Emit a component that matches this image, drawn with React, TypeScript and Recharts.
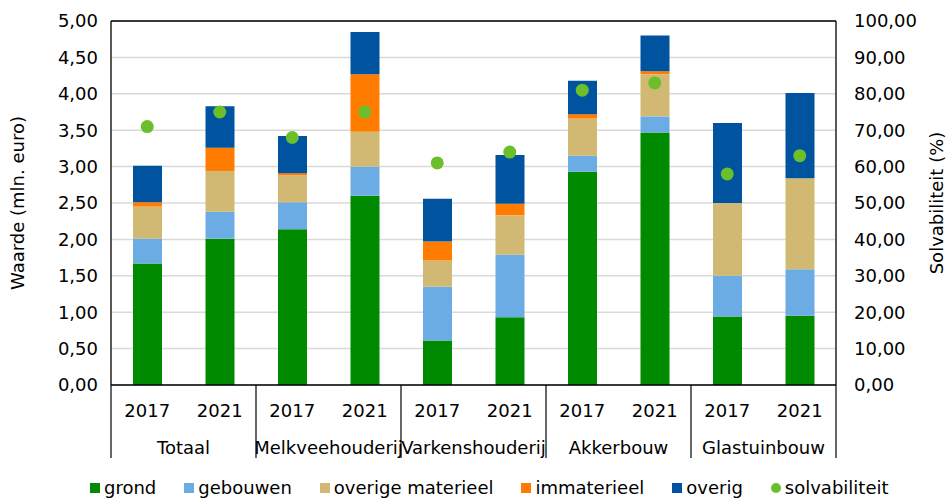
import {
  ComposedChart,
  Bar,
  Scatter,
  XAxis,
  YAxis,
  CartesianGrid,
  Legend,
  ReferenceLine,
} from "recharts";

const groups = ["Totaal", "Melkveehouderij", "Varkenshouderij", "Akkerbouw", "Glastuinbouw"];
const years = ["2017", "2021", "2017", "2021", "2017", "2021", "2017", "2021", "2017", "2021"];

const grond = [1.67, 2.01, 2.14, 2.6, 0.61, 0.93, 2.93, 3.47, 0.94, 0.95];
const gebouwen = [0.34, 0.37, 0.37, 0.4, 0.74, 0.86, 0.22, 0.22, 0.56, 0.64];
const overigeMaterieel = [0.44, 0.56, 0.37, 0.48, 0.36, 0.54, 0.51, 0.58, 1.0, 1.25];
const immaterieel = [0.06, 0.32, 0.03, 0.79, 0.26, 0.16, 0.06, 0.04, 0, 0];
const overig = [0.5, 0.57, 0.51, 0.58, 0.59, 0.67, 0.46, 0.49, 1.1, 1.17];
const solvabiliteit = [71, 75, 68, 75, 61, 64, 81, 83, 58, 63];

const leftTicks = [0, 0.5, 1, 1.5, 2, 2.5, 3, 3.5, 4, 4.5, 5];
const rightTicks = [0, 10, 20, 30, 40, 50, 60, 70, 80, 90, 100];

const series = [
  { key: "grond", name: "grond", color: "#008a00" },
  { key: "gebouwen", name: "gebouwen", color: "#6cace4" },
  { key: "overigeMaterieel", name: "overige materieel", color: "#d1b973" },
  { key: "immaterieel", name: "immaterieel", color: "#ff7c00" },
  { key: "overig", name: "overig", color: "#00539f" },
];
const dotColor = "#6abf2a";

const chartData = years.map((year, i) => ({
  year,
  grond: grond[i],
  gebouwen: gebouwen[i],
  overigeMaterieel: overigeMaterieel[i],
  immaterieel: immaterieel[i],
  overig: overig[i],
  solv: solvabiliteit[i],
}));

const W = 949;
const H = 498;
const LEFT_W = 111;
const RIGHT_W = 113;
const BAND = (W - LEFT_W - RIGHT_W) / years.length;
const FONT = "'DejaVu Sans', Verdana, sans-serif";

const fmt = (v: number) => v.toFixed(2).replace(".", ",");

function YearTick(props: any) {
  const { x, y, index } = props;
  const half = BAND / 2;
  return (
    <g>
      <text x={x} y={y + 32} textAnchor="middle" fontSize={18} fontFamily={FONT} fill="#000">
        {years[index]}
      </text>
      {index % 2 === 0 && (
        <>
          <line x1={x - half} x2={x - half} y1={y} y2={y + 73} stroke="#000" strokeWidth={1.2} />
          <text x={x + half} y={y + 69} textAnchor="middle" fontSize={18} fontFamily={FONT} fill="#000">
            {groups[index / 2]}
          </text>
        </>
      )}
      {index === years.length - 1 && (
        <line x1={x + half} x2={x + half} y1={y} y2={y + 73} stroke="#000" strokeWidth={1.2} />
      )}
    </g>
  );
}

function LegendContent() {
  return (
    <div
      style={{
        display: "flex",
        alignItems: "center",
        paddingLeft: 90,
        paddingTop: 15,
        fontFamily: FONT,
        fontSize: 18,
        color: "#000",
        lineHeight: "20px",
      }}
    >
      {series.map((s) => (
        <div key={s.key} style={{ display: "flex", alignItems: "center", marginRight: 28 }}>
          <span style={{ width: 10, height: 10, background: s.color, marginRight: 4 }} />
          <span>{s.name}</span>
        </div>
      ))}
      <div style={{ display: "flex", alignItems: "center" }}>
        <span
          style={{ width: 10, height: 10, borderRadius: 5, background: dotColor, marginRight: 4 }}
        />
        <span>solvabiliteit</span>
      </div>
    </div>
  );
}

export default function App() {
  return (
    <div style={{ position: "absolute", left: 0, top: 0, width: W, height: H, background: "#fff" }}>
      <ComposedChart
        width={W}
        height={H}
        data={chartData}
        margin={{ top: 21, right: 0, bottom: 0, left: 0 }}
        barSize={29}
      >
        <CartesianGrid
          yAxisId="left"
          vertical={false}
          stroke="#d9d9d9"
          strokeWidth={1.5}
        />
        <XAxis
          xAxisId="year"
          dataKey="year"
          height={78}
          tickLine={false}
          tickSize={0}
          tickMargin={0}
          interval={0}
          axisLine={{ stroke: "#000", strokeWidth: 1.3 }}
          tick={<YearTick />}
        />
        <YAxis
          yAxisId="left"
          orientation="left"
          width={LEFT_W}
          domain={[0, 5]}
          ticks={leftTicks}
          tickFormatter={fmt}
          tickLine={false}
          tickSize={0}
          tickMargin={13}
          axisLine={{ stroke: "#000", strokeWidth: 1.3 }}
          tick={{ fill: "#000", fontSize: 18, fontFamily: FONT }}
          label={{
            value: "Waarde (mln. euro)",
            angle: -90,
            position: "insideLeft",
            offset: 18,
            style: { textAnchor: "middle", fill: "#000", fontSize: 18, fontFamily: FONT },
          }}
        />
        <YAxis
          yAxisId="right"
          orientation="right"
          width={RIGHT_W}
          domain={[0, 100]}
          ticks={rightTicks}
          tickFormatter={fmt}
          tickLine={false}
          tickSize={0}
          tickMargin={18}
          axisLine={{ stroke: "#000", strokeWidth: 1.3 }}
          tick={{ fill: "#000", fontSize: 18, fontFamily: FONT, textAnchor: "start" }}
          label={{
            value: "Solvabiliteit (%)",
            angle: -90,
            position: "insideRight",
            offset: 12,
            style: { textAnchor: "middle", fill: "#000", fontSize: 18, fontFamily: FONT },
          }}
        />
        <ReferenceLine yAxisId="left" xAxisId="year" y={5} stroke="#000" strokeWidth={1.3} />
        <Legend verticalAlign="bottom" height={35} content={<LegendContent />} wrapperStyle={{ left: 0, width: W }} />
        {series.map((s) => (
          <Bar
            key={s.key}
            xAxisId="year"
            yAxisId="left"
            dataKey={s.key}
            name={s.name}
            stackId="a"
            fill={s.color}
            isAnimationActive={false}
          />
        ))}
        <Scatter
          xAxisId="year"
          yAxisId="right"
          dataKey="solv"
          name="solvabiliteit"
          fill={dotColor}
          isAnimationActive={false}
          shape={(p: any) => <circle cx={p.cx} cy={p.cy} r={6.5} fill={dotColor} />}
        />
      </ComposedChart>
    </div>
  );
}
